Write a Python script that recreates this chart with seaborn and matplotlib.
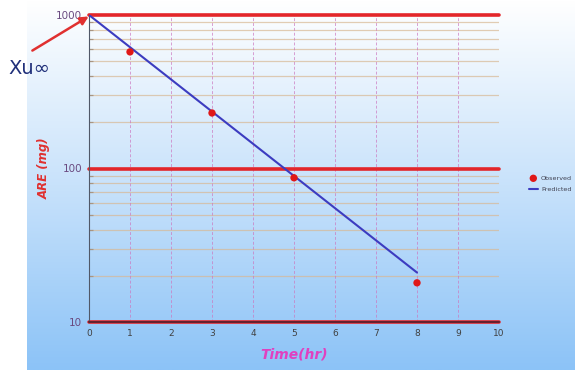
import numpy as np
import pandas as pd
import seaborn as sns
import matplotlib.pyplot as plt
from matplotlib.colors import LinearSegmentedColormap

# observed urinary excretion data (ARE vs time)
obs_time = [1, 3, 5, 8]
obs_are = [575, 230, 87, 18]
# predicted line end points
pred_time = [0, 8]
pred_are = [1000, 21]

xticks = list(range(0, 11))
yticks = [10, 100, 1000]
ytick_labels = ['10', '100', '1000']

sns.set_theme(style='white')
plt.rcParams['font.family'] = ['DejaVu Sans']

fig = plt.figure(figsize=(5.75, 3.7), dpi=100)
fig.patch.set_facecolor('white')

#gradient background panel
bg = fig.add_axes([27 / 575, 0, 1 - 27 / 575, 1], zorder=-10)
cmap = LinearSegmentedColormap.from_list('bg', ['#ffffff', '#c8e2fb', '#8cc3f7'])
grad = np.linspace(0, 1, 256).reshape(-1, 1)
bg.imshow(grad, aspect='auto', cmap=cmap, extent=[0, 1, 0, 1], origin='upper')
bg.axis('off')

ax = fig.add_axes([89 / 575, 1 - 322 / 370, 410 / 575, 307 / 370])
ax.set_facecolor('none')

obs = pd.DataFrame({'Time': obs_time, 'ARE': obs_are})
pred = pd.DataFrame({'Time': pred_time, 'ARE': pred_are})

ax.set_yscale('log')
ax.set_xlim(0, 10)
ax.set_ylim(10, 1000)

#minor horizontal grid
for dec in [10, 100]:
    for k in range(2, 10):
        ax.axhline(dec * k, color='#d8b894', lw=0.9, alpha=0.7, zorder=1)
#major horizontal lines
for v in yticks:
    ax.axhline(v, color='#e3262a', lw=2.6, zorder=2, clip_on=False)
#vertical dashed grid
for x in xticks[1:]:
    ax.axvline(x, color='#cc78c0', lw=0.7, ls=(0, (3, 2)), alpha=0.7, zorder=1)

sns.lineplot(data=pred, x='Time', y='ARE', color='#3c3cc0', lw=1.5,
             label='Predicted', ax=ax, zorder=4)
sns.scatterplot(data=obs, x='Time', y='ARE', color='#e01818', s=28,
                edgecolor='none', label='Observed', ax=ax, zorder=5)

ax.set_xticks(xticks)
ax.set_xticklabels([str(x) for x in xticks], fontsize=6.5, color='#404040')
ax.set_yticks(yticks)
ax.set_yticklabels(ytick_labels, fontsize=7.5, color='#6a4a80')
ax.yaxis.set_minor_formatter(plt.NullFormatter())
ax.tick_params(axis='both', which='major', length=0, pad=5)
ax.tick_params(axis='y', which='minor', left=True, direction='in',
               length=3, width=0.8, color='#404858')

for s in ['top', 'right']:
    ax.spines[s].set_visible(False)
ax.spines['left'].set_color('#505868')
ax.spines['left'].set_linewidth(0.8)
ax.spines['bottom'].set_color('#502030')
ax.spines['bottom'].set_linewidth(1.2)

ax.set_xlabel('Time(hr)', fontsize=10, color='#e040c0', fontweight='bold',
              fontstyle='italic', labelpad=7)
ax.set_ylabel('ARE (mg)', fontsize=8.5, color='#e03030', fontweight='bold',
              fontstyle='italic', labelpad=4)

#legend outside on the right
handles, labels = ax.get_legend_handles_labels()
order = [labels.index('Observed'), labels.index('Predicted')]
leg = ax.legend([handles[i] for i in order], [labels[i] for i in order],
                loc='center left', bbox_to_anchor=(1.065, 0.45), frameon=False,
                fontsize=4.6, handlelength=1.4, handletextpad=0.5,
                labelspacing=0.9, borderpad=0)
for t in leg.get_texts():
    t.set_color('#404050')

#Xu infinity annotation
ax.annotate('', xy=(0.05, 1000), xycoords='data',
            xytext=(30 / 575, 1 - 52 / 370), textcoords='figure fraction',
            arrowprops=dict(arrowstyle='-|>', color='#e03030', lw=1.8,
                            mutation_scale=12), zorder=6)
fig.text(8 / 575, 1 - 69 / 370, 'Xu\u221e', fontsize=14, color='#20307a',
         va='center', ha='left')

fig.savefig('out.png', dpi=100)
